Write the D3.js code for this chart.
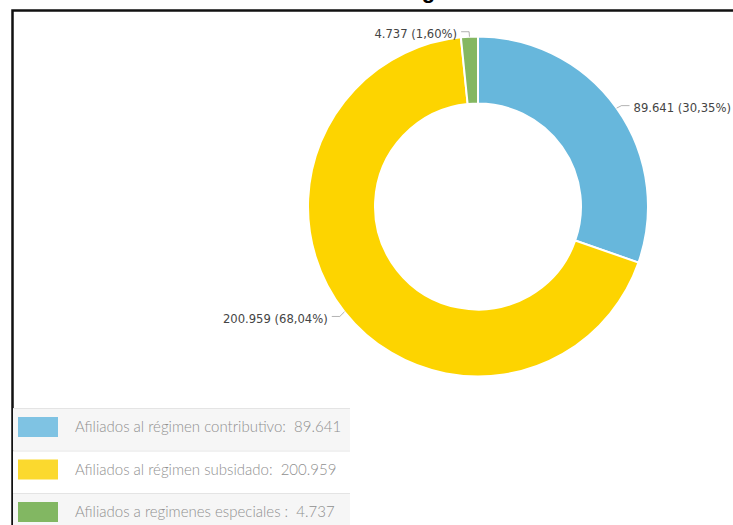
<!DOCTYPE html>
<html><head><meta charset="utf-8">
<script src="https://cdn.jsdelivr.net/npm/d3@7"></script>
<style>html,body{margin:0;padding:0;background:#fff;overflow:hidden;} svg{display:block;}</style>
</head><body>
<script>
const categories = ["Afiliados al régimen contributivo", "Afiliados al régimen subsidado", "Afiliados a regimenes especiales"];
const legendLabels = ["Afiliados al régimen contributivo:", "Afiliados al régimen subsidado:", "Afiliados a regimenes especiales :"];
const values = [89641, 200959, 4737];
const sliceColors = ["#67b7dc", "#fdd400", "#84b761"];
const legendColors = ["#7fc3e3", "#fbd92e", "#82b762"];
const titleText = "Afiliados al Régimen";

const W = 733, H = 525;
const loc = d3.formatLocale({decimal: ",", thousands: ".", grouping: [3], currency: ["", ""]});
const fmtInt = loc.format(",d");
const fmtPct = loc.format(".2f");

const svg = d3.select("body").append("svg").attr("width", W).attr("height", H);
svg.append("rect").attr("width", W).attr("height", H).attr("fill", "#fff");

// cropped title (only descender visible, as in the reference)
const title = svg.append("text")
  .attr("x", 0).attr("y", -2)
  .attr("font-family", "Liberation Sans, Arial, sans-serif")
  .attr("font-weight", "bold").attr("font-size", 22).attr("fill", "#000")
  .text(titleText);
{
  const node = title.node();
  const gi = titleText.indexOf("g");
  const s = node.getStartPositionOfChar(gi).x, e = node.getEndPositionOfChar(gi).x;
  title.attr("x", 428.5 - (s + e) / 2);
}

// frame
svg.append("path").attr("d", `M12.5,${H} V10.5 H${W}`)
  .attr("fill", "none").attr("stroke", "#111").attr("stroke-width", 2.5);

// donut
const cx = 478, cy = 206.5, R = 170, r = 103;
const total = d3.sum(values);
const pie = d3.pie().sort(null).value(d => d).startAngle(0).endAngle(2 * Math.PI);
const arcs = pie(values);
const arc = d3.arc().innerRadius(r).outerRadius(R);
const g = svg.append("g").attr("transform", `translate(${cx},${cy})`);
g.selectAll("path.slice").data(arcs).join("path")
  .attr("class", "slice")
  .attr("d", arc)
  .attr("fill", (d, i) => sliceColors[i])
  .attr("stroke", "#fff").attr("stroke-width", 2);

arcs.forEach((d, i) => {
  const a = (d.startAngle + d.endAngle) / 2;
  const p0 = [R * Math.sin(a), -R * Math.cos(a)];
  const p1 = [(R + 6) * Math.sin(a), -(R + 6) * Math.cos(a) + 1];
  const side = Math.sin(a) >= 0 ? 1 : -1;
  const p2 = [p1[0] + side * 8, p1[1]];
  g.append("polyline")
    .attr("points", [p0, p1, p2].map(p => p.join(",")).join(" "))
    .attr("fill", "none").attr("stroke", "#000").attr("stroke-opacity", 0.3).attr("stroke-width", 1);
  g.append("text")
    .attr("x", p2[0] + side * 4).attr("y", p2[1] + 2)
    .attr("dy", "0.35em")
    .attr("text-anchor", side > 0 ? "start" : "end")
    .attr("font-family", "DejaVu Sans, Verdana, sans-serif")
    .attr("font-size", 11.6).attr("fill", "#444")
    .text(`${fmtInt(values[i])} (${fmtPct(values[i] / total * 100)}%)`);
});

// legend
const lx = 13, lw = 337, ly = 408, rowH = 42.5;
const lg = svg.append("g");
legendLabels.forEach((lab, i) => {
  const top = ly + i * rowH;
  lg.append("rect").attr("x", lx).attr("y", top).attr("width", lw).attr("height", rowH)
    .attr("fill", i % 2 === 0 ? "#f6f6f6" : "#ffffff");
  lg.append("line").attr("x1", lx).attr("x2", lx + lw).attr("y1", top + 0.5).attr("y2", top + 0.5)
    .attr("stroke", "#e4e4e4").attr("stroke-width", 1);
  lg.append("rect").attr("x", 18).attr("y", top + 9).attr("width", 40).attr("height", 20)
    .attr("fill", legendColors[i]);
  lg.append("text").attr("x", 75).attr("y", top + 19).attr("dy", "0.35em")
    .attr("font-family", "Lato, Open Sans, sans-serif").attr("font-weight", 300)
    .attr("font-size", 15).attr("fill", "#909090")
    .style("white-space", "pre")
    .text(`${lab}  ${fmtInt(values[i])}`);
});
</script>
</body></html>
